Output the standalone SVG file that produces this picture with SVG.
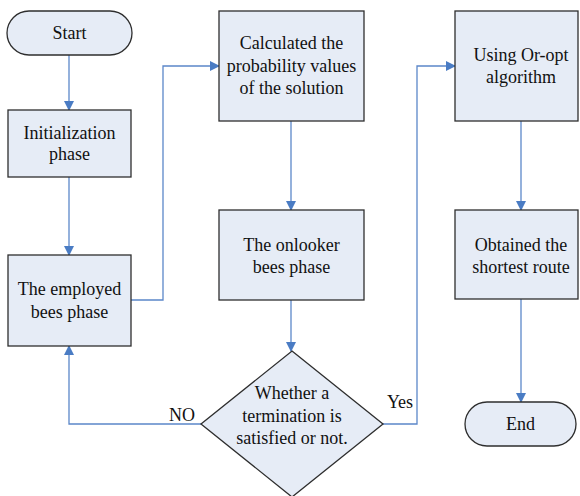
<svg xmlns="http://www.w3.org/2000/svg" width="580" height="496" viewBox="0 0 580 496">
<defs>
<style>
.n{fill:#e6ecf6;stroke:#2e2e2e;stroke-width:1.3}
.t{font-family:"Liberation Serif","Times New Roman",serif;font-size:18px;fill:#111;text-anchor:middle}
.c{fill:none;stroke:#5b87c9;stroke-width:1.3}
</style>
<marker id="a" markerWidth="10" markerHeight="10" refX="9" refY="5" orient="auto" markerUnits="userSpaceOnUse">
<path d="M0,0 L10,5 L0,10 z" fill="#4a7cc4"/>
</marker>
</defs>
<rect width="580" height="496" fill="#fff"/>
<g id="connectors">
<path class="c" d="M69,55 V110" marker-end="url(#a)"/>
<path class="c" d="M69,177 V255" marker-end="url(#a)"/>
<path class="c" d="M131,300 H163 V66 H219" marker-end="url(#a)"/>
<path class="c" d="M291,121 V210" marker-end="url(#a)"/>
<path class="c" d="M291,300 V351" marker-end="url(#a)"/>
<path class="c" d="M201,424 H69 V346" marker-end="url(#a)"/>
<path class="c" d="M383,424 H417 V66 H455" marker-end="url(#a)"/>
<path class="c" d="M521,121 V210" marker-end="url(#a)"/>
<path class="c" d="M521,299 V402" marker-end="url(#a)"/>
<text class="t" x="182" y="421">NO</text>
<text class="t" x="400" y="408">Yes</text>
</g>
<g id="start">
<rect class="n" x="7" y="11" width="125" height="44" rx="22"/>
<text class="t" x="69.5" y="39">Start</text>
</g>
<g id="init">
<rect class="n" x="8" y="110" width="123" height="67"/>
<text class="t" x="69.5" y="139">Initialization</text>
<text class="t" x="69.5" y="160">phase</text>
</g>
<g id="employed">
<rect class="n" x="8" y="255" width="123" height="91"/>
<text class="t" x="69.5" y="295">The employed</text>
<text class="t" x="69.5" y="318">bees phase</text>
</g>
<g id="calc">
<rect class="n" x="219" y="11" width="145" height="110"/>
<text class="t" x="291.5" y="49">Calculated the</text>
<text class="t" x="291.5" y="72">probability values</text>
<text class="t" x="291.5" y="94">of the solution</text>
</g>
<g id="onlooker">
<rect class="n" x="219" y="210" width="145" height="90"/>
<text class="t" x="291.5" y="251">The onlooker</text>
<text class="t" x="291.5" y="273">bees phase</text>
</g>
<g id="decision">
<polygon class="n" points="292,351 383,424 292,497 201,424"/>
<text class="t" x="292" y="399">Whether a</text>
<text class="t" x="292" y="422">termination is</text>
<text class="t" x="292" y="444">satisfied or not.</text>
</g>
<g id="oropt">
<rect class="n" x="455" y="11" width="123" height="110"/>
<text class="t" x="521" y="61">Using Or-opt</text>
<text class="t" x="521" y="83">algorithm</text>
</g>
<g id="obtained">
<rect class="n" x="455" y="210" width="123" height="89"/>
<text class="t" x="521" y="251">Obtained the</text>
<text class="t" x="521" y="273">shortest route</text>
</g>
<g id="end">
<rect class="n" x="465" y="402" width="111" height="44" rx="22"/>
<text class="t" x="520.5" y="430">End</text>
</g>
</svg>
